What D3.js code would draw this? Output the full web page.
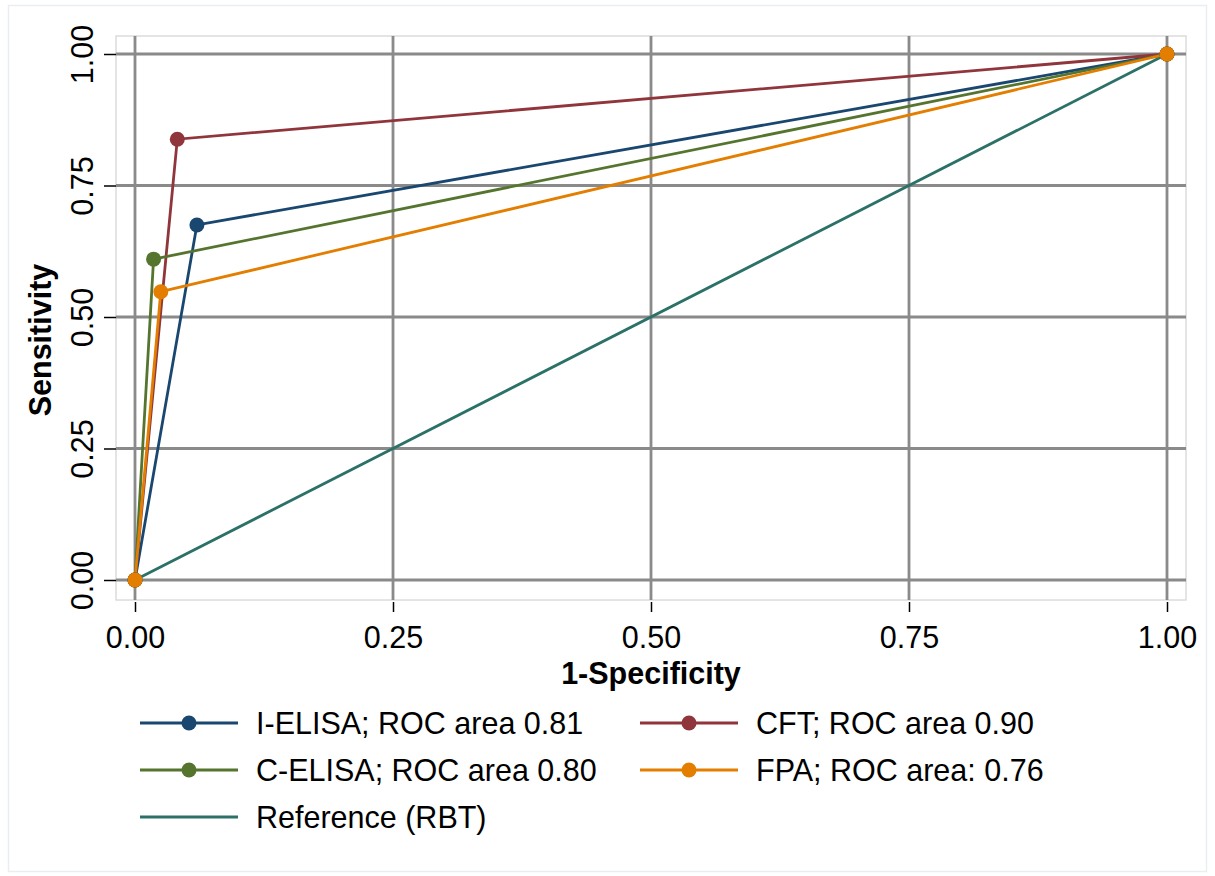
<!DOCTYPE html>
<html><head><meta charset="utf-8">
<script src="https://cdn.jsdelivr.net/npm/d3@7"></script>
<style>body{margin:0;background:#fff}svg{display:block;font-family:"Liberation Sans",Arial,sans-serif}</style>
</head><body><svg id="c" width="1215" height="876"></svg>
<script>
const tickValues = [0, 0.25, 0.5, 0.75, 1];
const seriesNames = ["I-ELISA; ROC area 0.81", "CFT; ROC area 0.90", "C-ELISA; ROC area 0.80", "FPA; ROC area: 0.76"];
const seriesColors = ["#1a476f", "#90353b", "#55752f", "#e37e00"];
const iElisaX = [0, 0.060, 1];
const iElisaY = [0, 0.675, 1];
const cftX = [0, 0.041, 1];
const cftY = [0, 0.838, 1];
const cElisaX = [0, 0.018, 1];
const cElisaY = [0, 0.610, 1];
const fpaX = [0, 0.025, 1];
const fpaY = [0, 0.548, 1];
const refName = "Reference (RBT)";
const refColor = "#2b7168";
const refX = [0, 1];
const refY = [0, 1];

const FS = 30.5;
const LW = 2.8;
const svg = d3.select("#c");
const x = d3.scaleLinear().domain([0,1]).range([135,1167]);
const y = d3.scaleLinear().domain([0,1]).range([580,54]);
const P = {l:116, r:1186, t:36, b:600};

svg.append("rect").attr("x",8.5).attr("y",5.5).attr("width",1198).attr("height",866)
  .attr("fill","#fff").attr("stroke","#e8eef2").attr("stroke-width",1.5);
svg.append("rect").attr("x",P.l).attr("y",P.t).attr("width",P.r-P.l).attr("height",P.b-P.t)
  .attr("fill","#fff").attr("stroke","#dcdcdc").attr("stroke-width",1.5);

// grid
svg.append("g").selectAll("line").data(tickValues).join("line")
  .attr("x1",P.l).attr("x2",P.r).attr("y1",d=>y(d)).attr("y2",d=>y(d))
  .attr("stroke","#8a8a8a").attr("stroke-width",2.8);
svg.append("g").selectAll("line").data(tickValues).join("line")
  .attr("y1",P.t).attr("y2",P.b).attr("x1",d=>x(d)).attr("x2",d=>x(d))
  .attr("stroke","#8a8a8a").attr("stroke-width",2.8);

// x axis
const xa = svg.append("g").attr("transform",`translate(0,${P.b+2})`)
  .call(d3.axisBottom(x).tickValues(tickValues).tickFormat(d3.format(".2f")).tickSize(10));
xa.select(".domain").remove();
xa.selectAll("line").attr("stroke","#000").attr("stroke-width",1.5);
xa.selectAll("text").attr("font-size",FS).attr("fill","#000").attr("font-family","Liberation Sans, Arial, sans-serif")
  .attr("dy",null).attr("y",46);

// y axis
const ya = svg.append("g").attr("transform",`translate(${P.l},0)`)
  .call(d3.axisLeft(y).tickValues(tickValues).tickFormat(d3.format(".2f")).tickSize(12));
ya.select(".domain").remove();
ya.selectAll("line").attr("stroke","#000").attr("stroke-width",1.5);
ya.selectAll("text").attr("font-size",FS).attr("fill","#000").attr("font-family","Liberation Sans, Arial, sans-serif")
  .attr("text-anchor","middle").attr("dy",null).attr("x",null).attr("y",null)
  .attr("transform","translate(-23,0) rotate(-90)");

// titles
svg.append("text").attr("x",x(0.5)).attr("y",684).attr("text-anchor","middle")
  .attr("font-size",FS).attr("font-weight","bold").text("1-Specificity");
svg.append("text").attr("transform",`translate(51,340) rotate(-90)`).attr("text-anchor","middle")
  .attr("font-size",FS).attr("font-weight","bold").text("Sensitivity");

const series = [
  {name:seriesNames[0], color:seriesColors[0], xs:iElisaX, ys:iElisaY},
  {name:seriesNames[1], color:seriesColors[1], xs:cftX, ys:cftY},
  {name:seriesNames[2], color:seriesColors[2], xs:cElisaX, ys:cElisaY},
  {name:seriesNames[3], color:seriesColors[3], xs:fpaX, ys:fpaY}
];
const line = d3.line().x(d=>x(d[0])).y(d=>y(d[1]));
const plot = svg.append("g");
plot.append("path").attr("d",line(d3.zip(refX,refY))).attr("fill","none").attr("stroke",refColor).attr("stroke-width",LW);
series.forEach(s=>{
  plot.append("path").attr("d",line(d3.zip(s.xs,s.ys))).attr("fill","none").attr("stroke",s.color).attr("stroke-width",LW);
});
series.forEach(s=>{
  plot.append("g").selectAll("circle").data(d3.zip(s.xs,s.ys)).join("circle")
    .attr("cx",d=>x(d[0])).attr("cy",d=>y(d[1])).attr("r",7.5).attr("fill",s.color);
});

// legend
const legItems = [
  {name:seriesNames[0], color:seriesColors[0], marker:true, col:0, row:0},
  {name:seriesNames[1], color:seriesColors[1], marker:true, col:1, row:0},
  {name:seriesNames[2], color:seriesColors[2], marker:true, col:0, row:1},
  {name:seriesNames[3], color:seriesColors[3], marker:true, col:1, row:1},
  {name:refName, color:refColor, marker:false, col:0, row:2}
];
const leg = svg.append("g");
legItems.forEach(it=>{
  const lx = 140 + it.col*500, ly = 723 + it.row*47;
  const g = leg.append("g").attr("transform",`translate(${lx},${ly})`);
  g.append("line").attr("x1",0).attr("x2",98).attr("y1",0).attr("y2",0).attr("stroke",it.color).attr("stroke-width",LW);
  if(it.marker) g.append("circle").attr("cx",49).attr("cy",0).attr("r",7.5).attr("fill",it.color);
  g.append("text").attr("x",116).attr("y",11).attr("font-size",FS).attr("fill","#000").text(it.name);
});
</script></body></html>
